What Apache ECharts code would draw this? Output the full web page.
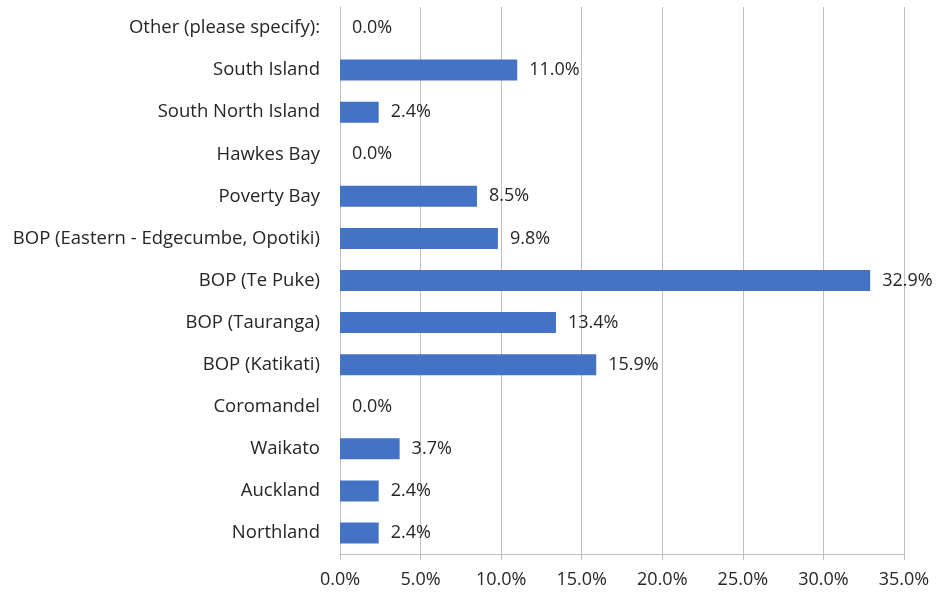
<!DOCTYPE html>
<html>
<head>
<meta charset="utf-8">
<script src="https://cdn.jsdelivr.net/npm/echarts@6/dist/echarts.min.js"></script>
<style>
  html, body { margin: 0; padding: 0; background: #fff; }
  #chart { width: 941px; height: 592px; }
</style>
</head>
<body>
<div id="chart"></div>
<script>
// categories listed bottom to top (category axis starts at the bottom)
const regions = [
  'Northland', 'Auckland', 'Waikato', 'Coromandel', 'BOP (Katikati)',
  'BOP (Tauranga)', 'BOP (Te Puke)', 'BOP (Eastern - Edgecumbe, Opotiki)',
  'Poverty Bay', 'Hawkes Bay', 'South North Island', 'South Island',
  'Other (please specify):'
]
const shares = [2.4, 2.4, 3.7, 0.0, 15.9, 13.4, 32.9, 9.8, 8.5, 0.0, 2.4, 11.0, 0.0]
const axisMax = 35
const axisStep = 5

const font = 'Open Sans, Liberation Sans, sans-serif'
const chart = echarts.init(document.getElementById('chart'))

chart.setOption({
  animation: false,
  grid: { left: 340, right: 37, top: 7, bottom: 38 },
  xAxis: {
    type: 'value',
    min: 0,
    max: axisMax,
    interval: axisStep,
    axisLine: { show: true, lineStyle: { color: '#bfbfbf' } },
    axisTick: { show: true, length: 6, lineStyle: { color: '#bfbfbf' } },
    splitLine: { lineStyle: { color: '#bfbfbf' } },
    axisLabel: {
      formatter: v => v.toFixed(1) + '%',
      color: '#262626',
      fontFamily: font,
      fontSize: 18,
      margin: 17
    }
  },
  yAxis: {
    type: 'category',
    data: regions,
    axisLine: { lineStyle: { color: '#bfbfbf' } },
    axisTick: { length: 6, lineStyle: { color: '#bfbfbf' } },
    axisLabel: {
      color: '#262626',
      fontFamily: font,
      fontSize: 18.5,
      margin: 20,
      padding: [6, 0, 0, 0]
    }
  },
  series: [{
    type: 'bar',
    data: shares,
    barWidth: 21,
    itemStyle: { color: '#4472c4' },
    label: {
      show: true,
      position: 'right',
      distance: 12,
      padding: [6, 0, 0, 0],
      formatter: p => p.value.toFixed(1) + '%',
      color: '#262626',
      fontFamily: font,
      fontSize: 18
    }
  }]
})
</script>
</body>
</html>
